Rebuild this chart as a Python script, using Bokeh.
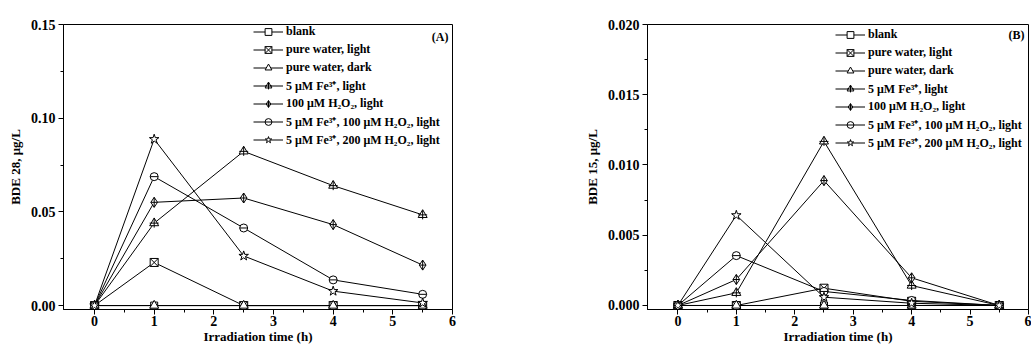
from bokeh.plotting import figure
from bokeh.layouts import row
from bokeh.models import (FixedTicker, PrintfTickFormatter, Legend, LegendItem,
                          Range1d, Label)
from bokeh.embed import file_html
from bokeh.resources import INLINE

# ---------------- data ----------------
time_h = [0, 1, 2.5, 4, 5.5]
series_labels = [
    "blank",
    "pure water, light",
    "pure water, dark",
    "5 μM Fe³⁺, light",
    "100 μM H₂O₂, light",
    "5 μM Fe³⁺, 100 μM H₂O₂, light",
    "5 μM Fe³⁺, 200 μM H₂O₂, light",
]

# Panel A: BDE 28 (μg/L)
bde28_blank = [0, 0, 0, 0, 0]
bde28_pw_light = [0, 0.023, 0, 0, 0]
bde28_pw_dark = [0, 0, 0, 0, 0]
bde28_fe_light = [0, 0.044, 0.0823, 0.064, 0.0484]
bde28_h2o2_light = [0, 0.0551, 0.0574, 0.0432, 0.0216]
bde28_fe_h2o2_100 = [0, 0.0688, 0.0414, 0.0137, 0.006]
bde28_fe_h2o2_200 = [0, 0.0888, 0.0265, 0.0077, 0.0014]

# Panel B: BDE 15 (μg/L)
bde15_blank = [0, 0, 0, 0, 0]
bde15_pw_light = [0, 0, 0.00123, 0.0003, 0]
bde15_pw_dark = [0, 0, 0, 0, 0]
bde15_fe_light = [0, 0.0009, 0.01168, 0.00142, 0]
bde15_h2o2_light = [0, 0.00185, 0.00889, 0.00197, 0]
bde15_fe_h2o2_100 = [0, 0.00355, 0.001, 0.00036, 0]
bde15_fe_h2o2_200 = [0, 0.00642, 0.00059, 0.00016, 0]

x_ticks = [0, 1, 2, 3, 4, 5, 6]
x_minor = [0.5, 1.5, 2.5, 3.5, 4.5, 5.5]
ya_ticks = [0.0, 0.05, 0.10, 0.15]
ya_minor = [0.025, 0.075, 0.125]
yb_ticks = [0.0, 0.005, 0.010, 0.015, 0.020]
yb_minor = [0.0025, 0.0075, 0.0125, 0.0175]

FONT = "Liberation Serif"

# marker style per series: (main marker, size, overlay marker, overlay size)
marker_styles = [
    ("square", 7, None, 0),
    ("square_x", 8, None, 0),
    ("triangle", 9, None, 0),
    ("triangle", 9, "cross", 9),
    ("diamond_cross", 10, None, 0),
    ("circle", 8, "dash", 8),
    ("star", 10, None, 0),
]


def make_panel(ys, ylabel, yrange, yticks, yminor, fmt, tag, tag_y,
               width, bl, br, bt, legend_xy):
    p = figure(width=width, height=348, output_backend="svg",
               toolbar_location=None,
               x_range=Range1d(-0.52, 6.0), y_range=Range1d(*yrange),
               min_border_left=bl, min_border_right=br,
               min_border_top=bt, min_border_bottom=39)
    p.xgrid.visible = False
    p.ygrid.visible = False
    p.outline_line_color = "black"
    p.outline_line_width = 1
    p.background_fill_color = "white"
    p.border_fill_color = "white"

    for ax in (p.xaxis[0], p.yaxis[0]):
        ax.axis_line_color = "black"
        ax.major_tick_line_color = "black"
        ax.minor_tick_line_color = "black"
        ax.major_tick_in = 0
        ax.major_tick_out = 5
        ax.minor_tick_in = 0
        ax.minor_tick_out = 3
        ax.major_label_text_font = FONT
        ax.major_label_text_font_style = "bold"
        ax.major_label_text_font_size = "14px"
        ax.major_label_text_color = "black"
        ax.axis_label_text_font = FONT
        ax.axis_label_text_font_style = "bold"
        ax.axis_label_text_font_size = "13px"
        ax.axis_label_text_color = "black"

    p.xaxis.ticker = FixedTicker(ticks=x_ticks, minor_ticks=x_minor)
    p.xaxis.axis_label = "Irradiation time (h)"
    p.xaxis.major_label_standoff = 1
    p.xaxis.axis_label_standoff = 0
    p.yaxis.ticker = FixedTicker(ticks=yticks, minor_ticks=yminor)
    p.yaxis.formatter = PrintfTickFormatter(format=fmt)
    p.yaxis.axis_label = ylabel
    p.yaxis.major_label_standoff = 3
    p.yaxis.axis_label_standoff = 5

    items = []
    for lab, y, (mk, sz, ov, osz) in zip(series_labels, ys, marker_styles):
        rs = []
        rs.append(p.line(time_h, y, line_color="black", line_width=1))
        rs.append(p.scatter(time_h, y, marker=mk, size=sz, line_color="black",
                            fill_color="white", line_width=1))
        if ov:
            rs.append(p.scatter(time_h, y, marker=ov, size=osz,
                                line_color="black", line_width=1))
        items.append(LegendItem(label=lab, renderers=rs))

    leg = Legend(items=items, location=legend_xy)
    leg.border_line_color = None
    leg.background_fill_alpha = 0
    leg.padding = 0
    leg.margin = 0
    leg.spacing = 1
    leg.label_height = 17
    leg.glyph_height = 17
    leg.glyph_width = 30
    leg.label_standoff = 3
    leg.label_text_font = FONT
    leg.label_text_font_style = "bold"
    leg.label_text_font_size = "12px"
    leg.label_text_color = "black"
    leg.label_text_baseline = "middle"
    p.add_layout(leg, "center")

    p.add_layout(Label(x=6.0, y=tag_y, text=tag, text_align="right",
                       text_baseline="middle", x_offset=-4,
                       text_font=FONT, text_font_style="bold",
                       text_font_size="12px", text_color="black"))
    return p


pa = make_panel(
    [bde28_blank, bde28_pw_light, bde28_pw_dark, bde28_fe_light,
     bde28_h2o2_light, bde28_fe_h2o2_100, bde28_fe_h2o2_200],
    "BDE 28, μg/L", (-0.0021, 0.15), ya_ticks, ya_minor, "%.2f",
    "(A)", 0.1433, 520, 63, 68, 19, (190, 161))

pb = make_panel(
    [bde15_blank, bde15_pw_light, bde15_pw_dark, bde15_fe_light,
     bde15_h2o2_light, bde15_fe_h2o2_100, bde15_fe_h2o2_200],
    "BDE 15, μg/L", (-0.000285, 0.020), yb_ticks, yb_minor, "%.3f",
    "(B)", 0.01924, 511, 127, 3, 24, (188, 158))

layout = row(pa, pb)
open("out.html", "w").write(file_html(layout, INLINE))
